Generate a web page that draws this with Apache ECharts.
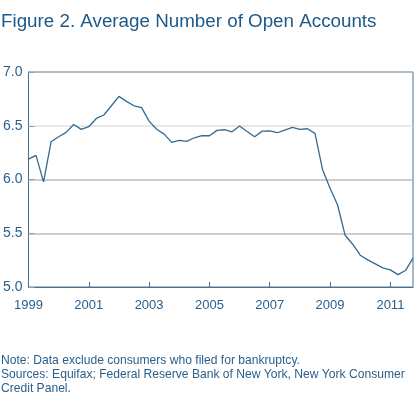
<!DOCTYPE html>
<html>
<head>
<meta charset="utf-8">
<title>Average Number of Open Accounts</title>
<script src="https://cdn.jsdelivr.net/npm/echarts@6/dist/echarts.min.js"></script>
<style>
  * { margin: 0; padding: 0 }
  html, body { width: 100%; height: 100%; background: #fff; }
  #main { width: 420px; height: 396px; }
</style>
</head>
<body>
<div id="main"></div>
<script>
  // quarterly, 1999Q1 .. 2011Q4
  var years = [1999, 2000, 2001, 2002, 2003, 2004, 2005, 2006, 2007, 2008, 2009, 2010, 2011];
  var quarters = ['Q1', 'Q2', 'Q3', 'Q4'];
  var labelYears = ['1999', '2001', '2003', '2005', '2007', '2009', '2011'];
  var openAccounts = [
    6.19, 6.224, 5.978, 6.351, 6.398, 6.438, 6.512, 6.466, 6.491, 6.568, 6.60, 6.686,
    6.773, 6.727, 6.686, 6.668, 6.543, 6.467, 6.422, 6.345, 6.363, 6.354, 6.388, 6.407,
    6.407, 6.457, 6.463, 6.444, 6.497, 6.447, 6.398, 6.450, 6.453, 6.435, 6.460, 6.485,
    6.466, 6.472, 6.429, 6.094, 5.918, 5.763, 5.481, 5.398, 5.296, 5.252, 5.215, 5.178,
    5.159, 5.115, 5.153, 5.268
  ];
  var noteLines = [
    'Note: Data exclude consumers who filed for bankruptcy.',
    'Sources: Equifax; Federal Reserve Bank of New York, New York Consumer',
    'Credit Panel.'
  ];

  var categories = [];
  years.forEach(function (y) {
    quarters.forEach(function (q) { categories.push(y + q); });
  });

  function isLabelTick(idx) {
    var c = categories[idx];
    return c.slice(4) === 'Q1' && labelYears.indexOf(c.slice(0, 4)) >= 0;
  }

  var font = '"Liberation Sans", Arial, sans-serif';
  var blue = '#2a5f8c';
  var chart = echarts.init(document.getElementById('main'));
  chart.setOption({
    animation: false,
    title: [{
      text: 'Figure 2. Average Number of Open Accounts',
      left: 1, top: 12, padding: 0,
      textStyle: { fontFamily: font, fontSize: 18.8, fontWeight: 'normal', color: '#1d5a8a' }
    }, {
      text: noteLines.join('\n'),
      left: 1, top: 354, padding: 0,
      textStyle: { fontFamily: font, fontSize: 12.1, fontWeight: 'normal', color: '#2a5f8c', lineHeight: 14 }
    }],
    grid: {
      left: 27, top: 72, width: 386, height: 215,
      show: true, borderColor: '#44739a', borderWidth: 1, backgroundColor: 'transparent'
    },
    xAxis: {
      type: 'category',
      data: categories,
      boundaryGap: false,
      axisLine: { lineStyle: { color: '#44739a', width: 1 } },
      axisTick: { inside: true, length: 5, interval: isLabelTick, lineStyle: { color: '#44739a' } },
      axisLabel: {
        interval: isLabelTick,
        formatter: function (v) { return v.slice(0, 4); },
        margin: 12, fontFamily: font, fontSize: 13, color: blue
      },
      splitLine: { show: false }
    },
    yAxis: {
      type: 'value',
      min: 5, max: 7, interval: 0.5,
      axisLine: { show: true, lineStyle: { color: '#44739a', width: 1 } },
      axisTick: { show: true, inside: true, length: 6, lineStyle: { color: '#a0a0a0' } },
      axisLabel: {
        formatter: function (v) { return v.toFixed(1); },
        margin: 6, fontFamily: font, fontSize: 14, color: blue
      },
      splitLine: { lineStyle: { color: ['#bdbdbd', '#bdbdbd', '#bdbdbd', '#e2e2e2', '#bdbdbd'], width: 1.5 } }
    },
    series: [{
      type: 'line',
      data: openAccounts,
      symbol: 'none',
      lineStyle: { color: '#336a93', width: 1.3 }
    }]
  });
</script>
</body>
</html>
